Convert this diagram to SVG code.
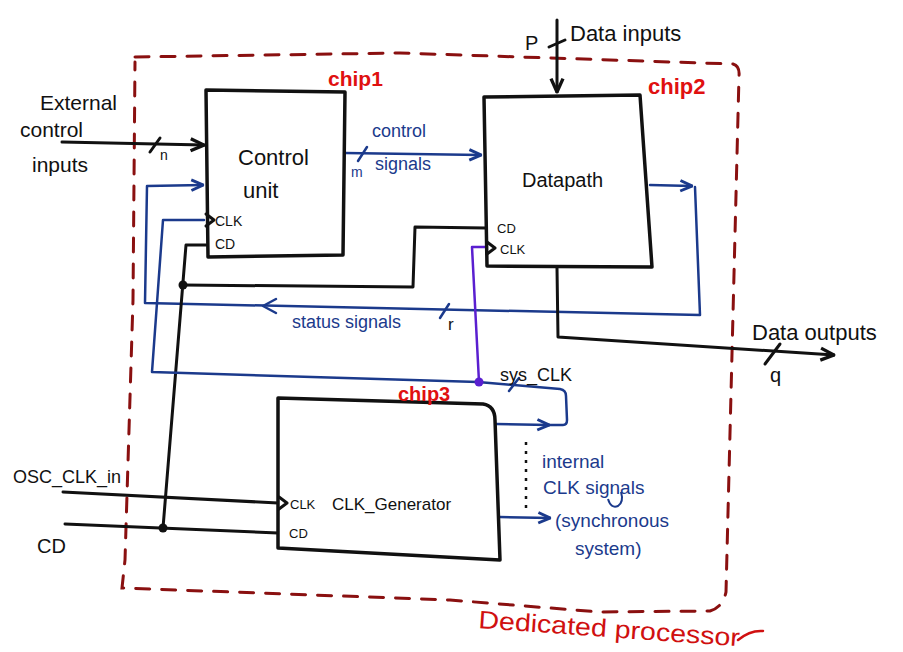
<svg xmlns="http://www.w3.org/2000/svg" width="903" height="652" viewBox="0 0 903 652">
<defs>
<style>
.bk{fill:none;stroke:#111;stroke-width:3;stroke-linecap:round;stroke-linejoin:round}
.bl{fill:none;stroke:#1b3a8c;stroke-width:2.5;stroke-linecap:round;stroke-linejoin:round}
.pu{fill:none;stroke:#5a1fd0;stroke-width:2.5;stroke-linejoin:round}
.box{fill:#fff;stroke:#111;stroke-width:3.5;stroke-linejoin:round}
.bnd{fill:none;stroke:#8a1010;stroke-width:3;stroke-dasharray:14 12;stroke-linecap:round}
text{font-family:"Liberation Sans",Arial,sans-serif}
.t{fill:#111}
.tb{fill:#1b3a8c}
.tr{fill:#e01010;font-weight:bold}
</style>
<marker id="ab" viewBox="0 0 12 12" refX="11" refY="6" markerWidth="16" markerHeight="16" orient="auto" markerUnits="userSpaceOnUse"><path d="M1,1.5 L11,6 L1,10.5" fill="none" stroke="#111" stroke-width="2.5"/></marker>
<marker id="abl" viewBox="0 0 12 12" refX="11" refY="6" markerWidth="14" markerHeight="14" orient="auto" markerUnits="userSpaceOnUse"><path d="M1,1.5 L11,6 L1,10.5" fill="none" stroke="#1b3a8c" stroke-width="2.5"/></marker>
</defs>
<rect width="903" height="652" fill="#fff"/>

<g id="boundary">
<path class="bnd" d="M135,57 L400,53 L733,64 Q740,66 739,76 L726,592 Q723,607 710,611 L600,612 L450,600 L122,588 L125,560 L133,300 L135,62"/>
<text x="478" y="628" font-size="25" fill="#d01010" transform="rotate(4 478 628)" textLength="262" lengthAdjust="spacingAndGlyphs">Dedicated processor</text>
<path d="M738,640 Q750,630 763,631" fill="none" stroke="#d01010" stroke-width="2.5" stroke-linecap="round"/>
</g>

<g id="connectors">
<!-- external control inputs -->
<path class="bk" d="M62,142 L204,145" marker-end="url(#ab)"/>
<path class="bk" d="M150,152 L160,138" stroke-width="2"/>
<!-- control signals -->
<path class="bl" d="M345,153 L481,155" marker-end="url(#abl)"/>
<path class="bl" d="M358,161 L367,147" stroke-width="2"/>
<!-- data inputs -->
<path class="bk" d="M557,20 L557,92" marker-end="url(#ab)"/>
<path class="bk" d="M549,47 L565,40" stroke-width="2"/>
<!-- datapath status out & status signals -->
<path class="bl" d="M650,185 L692,186" marker-end="url(#abl)"/>
<path class="bl" d="M695,187 L700,315 L145,303 L147,186 L203,185" marker-end="url(#abl)"/>
<path class="bl" d="M276,299 L263,306 L276,313"/>
<path class="bl" d="M440,318 L449,304" stroke-width="2"/>
<!-- data outputs -->
<path class="bk" d="M557,268 L558,337 L834,355" marker-end="url(#ab)" stroke-width="3.5"/>
<path class="bk" d="M765,364 L780,344" stroke-width="2"/>
<!-- CD network -->
<path class="bk" d="M486,228 L415,227 L413,287 L183,285"/>
<path class="bk" d="M206,245 L186,245 L163,528"/>
<path class="bk" d="M65,524 L278,533"/>
<circle cx="183" cy="285" r="4.5" fill="#111"/>
<circle cx="163" cy="528" r="4.5" fill="#111"/>
<!-- OSC clk in -->
<path class="bk" d="M63,492 L278,503"/>
<!-- sys clk -->
<path class="bl" d="M496,424 L549,425" marker-end="url(#abl)"/>
<path class="bl" d="M549,425 L563,425 Q567,425 567,420 L566,396 Q566,390 560,389 L478,382 L152,372 L163,220 L204,220"/>
<path class="bl" d="M509,391 L519,378" stroke-width="2"/>
<path class="pu" d="M479,382 L472,247 L486,247"/>
<circle cx="479" cy="382" r="4.5" fill="#5a1fd0"/>
<!-- internal clk signals -->
<path class="bl" d="M500,517 L550,518" marker-end="url(#abl)"/>
<path d="M526,442 L526,512" fill="none" stroke="#111" stroke-width="2.5" stroke-dasharray="3 6"/>
<path d="M608,499 Q611,509 618,506 Q624,502 621,492" fill="none" stroke="#1b3a8c" stroke-width="2"/>
</g>

<g id="control_unit">
<path class="box" d="M206,90 L345,92 L343,255 L208,257 Z"/>
<path class="bk" d="M206,214 L214,220 L206,226"/>
<text class="t" x="238" y="165" font-size="22">Control</text>
<text class="t" x="243" y="198" font-size="22">unit</text>
<text class="t" x="215" y="226" font-size="14">CLK</text>
<text class="t" x="215" y="249" font-size="14">CD</text>
<text class="tr" x="328" y="86" font-size="21">chip1</text>
</g>

<g id="datapath">
<path class="box" d="M484,97 L640,95 L652,267 L487,266 Z"/>
<path class="bk" d="M487,242 L495,248 L487,254"/>
<text class="t" x="522" y="187" font-size="20">Datapath</text>
<text class="t" x="497" y="233" font-size="13">CD</text>
<text class="t" x="500" y="254" font-size="13">CLK</text>
<text class="tr" x="648" y="94" font-size="22">chip2</text>
</g>

<g id="clk_generator">
<path class="box" d="M278,398 L483,404 Q495,406 495,420 L500,560 L278,548 Z"/>
<path class="bk" d="M279,497 L287,503 L279,509"/>
<text class="t" x="332" y="510" font-size="17">CLK_Generator</text>
<text class="t" x="290" y="509" font-size="13">CLK</text>
<text class="t" x="289" y="538" font-size="13">CD</text>
<text class="tr" x="398" y="401" font-size="20">chip3</text>
</g>

<g id="labels">
<text class="t" x="40" y="110" font-size="21">External</text>
<text class="t" x="20" y="137" font-size="21">control</text>
<text class="t" x="32" y="172" font-size="21">inputs</text>
<text class="t" x="160" y="160" font-size="14">n</text>
<text class="tb" x="372" y="137" font-size="18">control</text>
<text class="tb" x="375" y="170" font-size="18">signals</text>
<text class="tb" x="351" y="177" font-size="14">m</text>
<text class="t" x="525" y="50" font-size="20">P</text>
<text class="t" x="570" y="41" font-size="22">Data inputs</text>
<text class="tb" x="292" y="328" font-size="18">status signals</text>
<text class="t" x="448" y="330" font-size="17">r</text>
<text class="t" x="752" y="340" font-size="22">Data outputs</text>
<text class="t" x="770" y="382" font-size="20">q</text>
<text class="t" x="500" y="381" font-size="18">sys_CLK</text>
<text class="t" x="13" y="483" font-size="18">OSC_CLK_in</text>
<text class="t" x="37" y="553" font-size="20">CD</text>
<text class="tb" x="542" y="468" font-size="19">internal</text>
<text class="tb" x="543" y="494" font-size="19">CLK signals</text>
<text class="tb" x="555" y="527" font-size="19">(synchronous</text>
<text class="tb" x="575" y="555" font-size="19">system)</text>
</g>
</svg>
